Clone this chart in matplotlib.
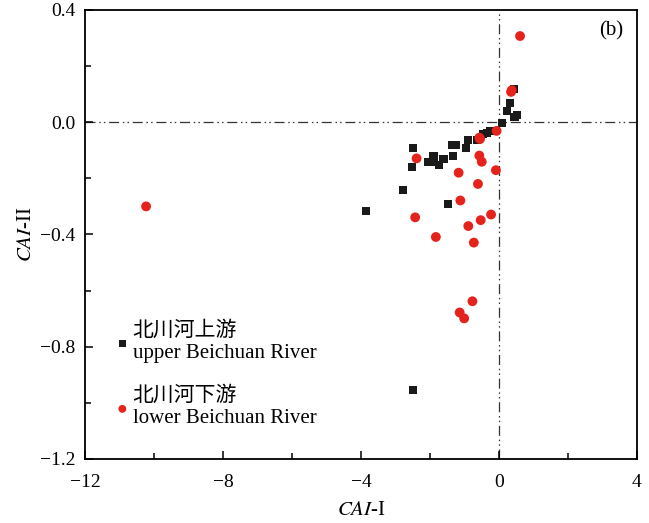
import matplotlib
matplotlib.use("Agg")
import matplotlib.pyplot as plt
from matplotlib.ticker import MultipleLocator, FuncFormatter

plt.rcParams['font.family'] = ['Liberation Serif', 'Noto Sans CJK SC', 'DejaVu Sans']
plt.rcParams['mathtext.fontset'] = 'stix'
plt.rcParams['axes.unicode_minus'] = True

# upper Beichuan River (black squares)
upper_x = [0.44, 0.32, 0.24, 0.51, 0.45, 0.09, -0.26, -0.36, -0.47, -0.65, -0.89,
           -2.48, -1.37, -1.25, -0.96, -1.34, -1.90, -1.61, -2.05, -1.90, -1.75,
           -2.51, -2.77, -1.47, -3.86, -2.49]
upper_y = [0.117, 0.069, 0.039, 0.027, 0.017, -0.002, -0.031, -0.040, -0.043, -0.062, -0.062,
           -0.091, -0.082, -0.082, -0.091, -0.121, -0.121, -0.131, -0.141, -0.141, -0.151,
           -0.159, -0.240, -0.290, -0.317, -0.955]

# lower Beichuan River (red circles)
lower_x = [0.61, 0.37, 0.35, -0.07, -0.57, -0.55, -2.39, -0.57, -0.50, -1.17, -0.09,
           -0.61, -1.12, -2.43, -0.23, -0.53, -0.89, -1.83, -0.73, -0.77, -1.14, -1.01,
           -10.23]
lower_y = [0.307, 0.114, 0.108, -0.031, -0.055, -0.060, -0.129, -0.119, -0.141, -0.180, -0.171,
           -0.220, -0.279, -0.339, -0.329, -0.349, -0.370, -0.409, -0.429, -0.638, -0.678, -0.699,
           -0.300]

labels = ["北川河上游\nupper Beichuan River", "北川河下游\nlower Beichuan River"]

fig = plt.figure(figsize=(6.49, 5.23), dpi=100)
ax = fig.add_axes([0.131, 0.1224, 0.8505, 0.8586])

ls = (0, (8, 3, 1.2, 2.5, 1.2, 3))
ax.axhline(0, color='#333333', lw=0.9, ls=ls, zorder=1)
ax.axvline(0, color='#333333', lw=0.9, ls=ls, zorder=1)

ax.scatter(upper_x, upper_y, marker='s', s=34, color='#1a1a1a', edgecolors='none',
           label=labels[0], zorder=3)
ax.scatter(lower_x, lower_y, marker='o', s=50, color='#e5221c', edgecolors='none',
           label=labels[1], zorder=4)

ax.set_xlim(-12, 4)
ax.set_ylim(-1.2, 0.4)
ax.xaxis.set_major_locator(MultipleLocator(4))
ax.xaxis.set_minor_locator(MultipleLocator(2))
ax.yaxis.set_major_locator(MultipleLocator(0.4))
ax.yaxis.set_minor_locator(MultipleLocator(0.2))
ax.yaxis.set_major_formatter(FuncFormatter(lambda v, p: f"{v:.1f}".replace('-', '\u2212')))
ax.xaxis.set_major_formatter(FuncFormatter(lambda v, p: f"{v:.0f}".replace('-', '\u2212')))

ax.tick_params(which='both', direction='in', top=False, right=False, labelsize=14, width=1.1)
ax.tick_params(axis='x', which='major', pad=11)
ax.tick_params(axis='y', which='major', pad=7)
ax.tick_params(which='major', length=6)
ax.tick_params(which='minor', length=4)
for sp in ax.spines.values():
    sp.set_linewidth(1.3)

ax.set_xlabel(r'$\mathit{CAI}$-I', fontsize=15, labelpad=7)
ax.set_ylabel(r'$\mathit{CAI}$-II', fontsize=15, labelpad=3)

ax.text(0.975, 0.975, '(b)', transform=ax.transAxes, ha='right', va='top', fontsize=15)

leg = ax.legend(loc='lower left', bbox_to_anchor=(0.0525, 0.069), frameon=False,
                fontsize=15, handletextpad=0.1, labelspacing=1.15, borderaxespad=0,
                borderpad=0, handlelength=0.8, markerscale=0.8)

fig.savefig('out.png', dpi=100)
